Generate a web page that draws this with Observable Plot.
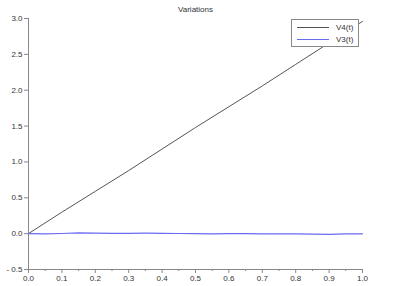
<!DOCTYPE html>
<html>
<head>
<meta charset="utf-8">
<script src="https://cdn.jsdelivr.net/npm/d3@7"></script>
<script src="https://cdn.jsdelivr.net/npm/@observablehq/plot@0.6"></script>
<style>
  html, body { margin: 0; padding: 0; background: #fff; }
  #wrap { position: relative; width: 418px; height: 286px; font-family: "Liberation Sans", "DejaVu Sans", sans-serif; }
  #legend { position: absolute; left: 291px; top: 19px; width: 66px; height: 26px; border: 1px solid #888; background: #fff; font-size: 8px; color: #333; }
  .row { position: absolute; left: 5px; height: 10px; display: flex; align-items: center; }
  .sw { display: inline-block; width: 32px; height: 1px; margin-right: 7px; }
</style>
</head>
<body>
<div id="wrap"></div>
<script>
const title = "Variations";
const seriesNames = ["V4(t)", "V3(t)"];
const seriesColors = ["#555555", "#6b6bf2"];

const tV4 = [0, 0.1, 0.2, 0.3, 0.4, 0.5, 0.6, 0.7, 0.8, 0.9, 1.0];
const V4 = [0, 0.30, 0.59, 0.88, 1.18, 1.48, 1.77, 2.06, 2.36, 2.66, 2.96];

const tV3 = [0, 0.05, 0.1, 0.15, 0.2, 0.25, 0.3, 0.35, 0.4, 0.45, 0.5, 0.55, 0.6, 0.65, 0.7, 0.75, 0.8, 0.85, 0.9, 0.95, 1.0];
const V3 = [0, -0.004, 0.002, 0.010, 0.008, 0.005, 0.004, 0.006, 0.005, 0.002, 0.0, -0.002, 0.0, 0.001, -0.002, -0.003, -0.003, -0.006, -0.009, -0.004, -0.003];

const xMajor = [0, 0.1, 0.2, 0.3, 0.4, 0.5, 0.6, 0.7, 0.8, 0.9, 1.0];
const xMinor = [0.05, 0.15, 0.25, 0.35, 0.45, 0.55, 0.65, 0.75, 0.85, 0.95];
const yMajor = [-0.5, 0, 0.5, 1.0, 1.5, 2.0, 2.5, 3.0];

const dV4 = tV4.map((t, i) => ({t, v: V4[i]}));
const dV3 = tV3.map((t, i) => ({t, v: V3[i]}));

const fmt = d => (d < 0 ? "- " + Math.abs(d).toFixed(1) : d.toFixed(1));

const chart = Plot.plot({
  width: 418,
  height: 286,
  marginLeft: 28,
  marginRight: 56,
  marginTop: 18,
  marginBottom: 17,
  style: {fontFamily: "Liberation Sans, DejaVu Sans, sans-serif", fontSize: "8px", color: "#333", background: "#fff"},
  x: {domain: [0, 1]},
  y: {domain: [-0.5, 3]},
  marks: [
    Plot.ruleX([0], {stroke: "#888", y1: -0.5, y2: 3}),
    Plot.ruleY([-0.5], {stroke: "#888", x1: 0, x2: 1}),
    Plot.axisX({ticks: xMajor, tickSize: 4, tickPadding: 2, tickFormat: fmt, stroke: "#888", fill: "#333", label: null}),
    Plot.axisX({ticks: xMinor, tickSize: 2, text: null, stroke: "#888", label: null}),
    Plot.axisY({ticks: yMajor, tickSize: 4, tickPadding: 2, tickFormat: fmt, stroke: "#888", fill: "#333", label: null}),
    Plot.line(dV4, {x: "t", y: "v", stroke: seriesColors[0], strokeWidth: 1}),
    Plot.line(dV3, {x: "t", y: "v", stroke: seriesColors[1], strokeWidth: 1.2}),
    Plot.text([title], {frameAnchor: "top", dy: -12, fontSize: 8, fill: "#333"})
  ]
});

const wrap = document.getElementById("wrap");
wrap.appendChild(chart);

const legend = document.createElement("div");
legend.id = "legend";
seriesNames.forEach((name, i) => {
  const row = document.createElement("div");
  row.className = "row";
  row.style.top = (2 + i * 12) + "px";
  const sw = document.createElement("span");
  sw.className = "sw";
  sw.style.background = seriesColors[i];
  const lab = document.createElement("span");
  lab.textContent = name;
  row.appendChild(sw);
  row.appendChild(lab);
  legend.appendChild(row);
});
wrap.appendChild(legend);
</script>
</body>
</html>
